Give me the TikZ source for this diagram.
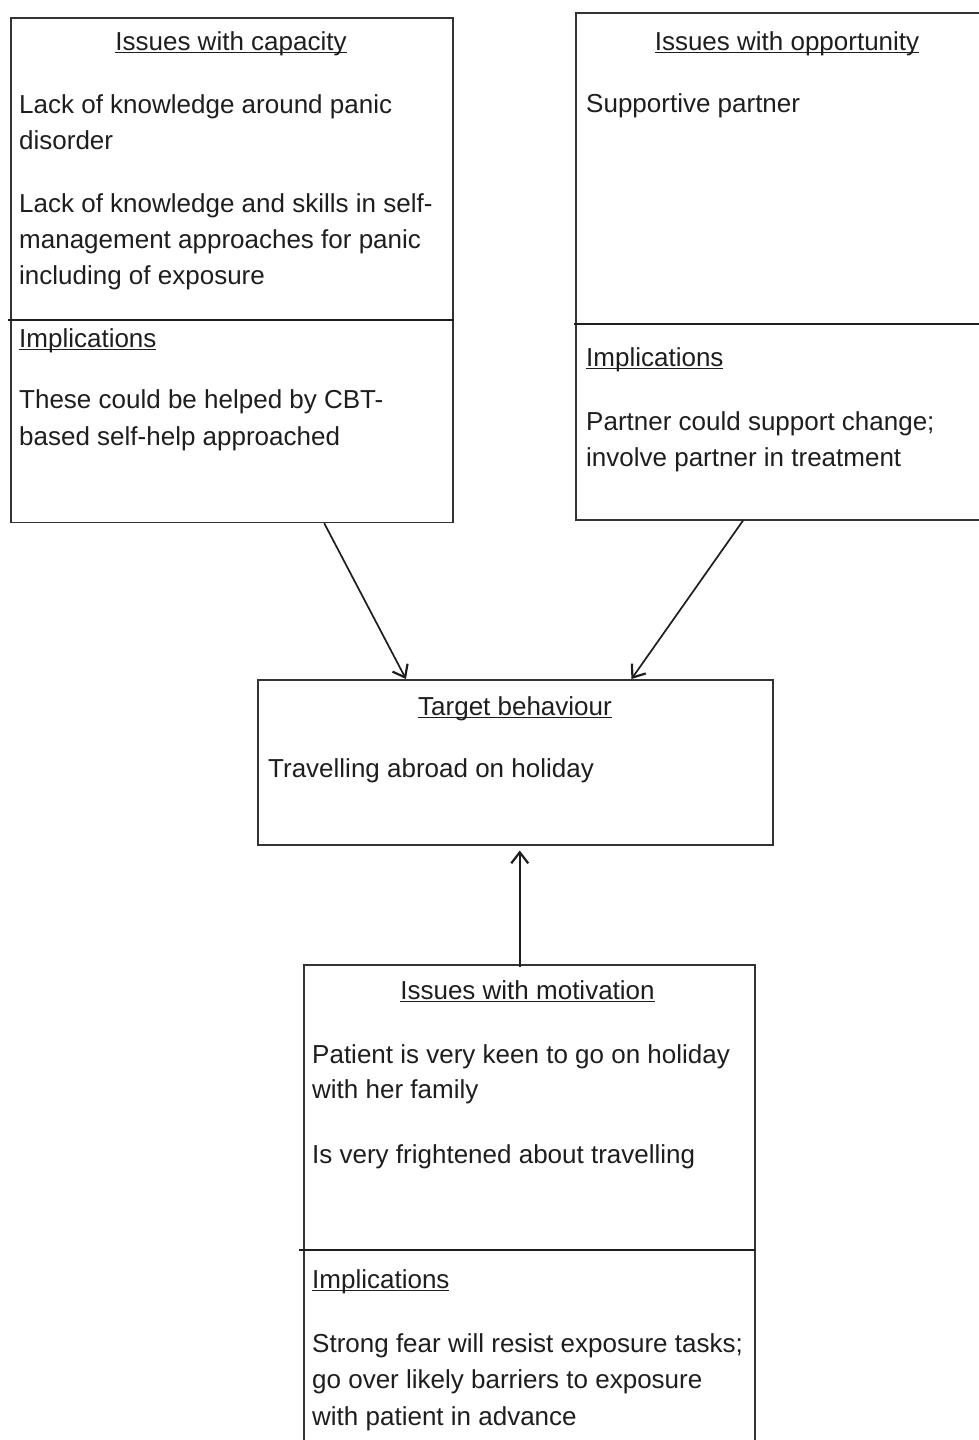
\documentclass[tikz,border=0pt]{standalone}
\usepackage{fontspec}
\setmainfont{Liberation Sans}
\usetikzlibrary{arrows.meta}
\definecolor{ink}{HTML}{1E1E1E}
\definecolor{edge}{HTML}{333333}
\newcommand\myul[1]{\setbox0\hbox{#1}\rlap{\rule[-3pt]{\wd0}{1.2pt}}\box0}
\begin{document}
\begin{tikzpicture}[x=1pt,y=1pt,
  box/.style={draw=edge, line width=1.5pt, inner sep=0pt, anchor=north west},
  divider/.style={draw=ink, line width=2pt},
  txt/.style={inner sep=0pt, anchor=base west, text=ink, font=\fontsize{26}{36}\selectfont},
  ttl/.style={txt, anchor=base},
  arr/.style={draw=ink, line width=1.7pt, -{Straight Barb[length=11pt,width=17pt,line width=2.2pt]}}]
\useasboundingbox (0,0) rectangle (978,-1440);

% boxes
\node[box, minimum width=442.3pt, minimum height=504.7pt] (cap) at (10,-17) {};
\node[box, minimum width=420pt, minimum height=507pt] (opp) at (575,-12) {};
\node[box, minimum width=515pt, minimum height=165pt] (tgt) at (257.3,-679) {};
\node[box, minimum width=450.7pt, minimum height=496pt] (mot) at (303.3,-964) {};

% dividers
\draw[divider] (8,-320) -- (453.5,-320);
\draw[divider] (574,-324) -- (995,-324);
\draw[divider] (299,-1250) -- (755,-1250);

% capacity
\node[ttl] (capT) at (231,-50) {\myul{Issues with capacity}};
\node[txt] (cap1) at (19,-113) {Lack of knowledge around panic};
\node[txt] (cap2) at (19,-149) {disorder};
\node[txt] (cap3) at (19,-212) {Lack of knowledge and skills in self-};
\node[txt] (cap4) at (19,-248) {management approaches for panic};
\node[txt] (cap5) at (19,-284) {including of exposure};
\node[txt] (capI) at (19,-347) {\myul{Implications}};
\node[txt] (cap6) at (19,-408) {These could be helped by CBT-};
\node[txt] (cap7) at (19,-445) {based self-help approached};

% opportunity
\node[ttl] (oppT) at (787,-50) {\myul{Issues with opportunity}};
\node[txt] (opp1) at (586,-112) {Supportive partner};
\node[txt] (oppI) at (586,-366) {\myul{Implications}};
\node[txt] (opp2) at (586,-430) {Partner could support change;};
\node[txt] (opp3) at (586,-466) {involve partner in treatment};

% target
\node[ttl] (tgtT) at (515,-715) {\myul{Target behaviour}};
\node[txt] (tgt1) at (268,-777) {Travelling abroad on holiday};

% motivation
\node[ttl] (motT) at (527.5,-999) {\myul{Issues with motivation}};
\node[txt] (mot1) at (312,-1063) {Patient is very keen to go on holiday};
\node[txt] (mot2) at (312,-1098) {with her family};
\node[txt] (mot3) at (312,-1163) {Is very frightened about travelling};
\node[txt] (motI) at (312,-1288) {\myul{Implications}};
\node[txt] (mot4) at (312,-1352) {Strong fear will resist exposure tasks;};
\node[txt] (mot5) at (312,-1388) {go over likely barriers to exposure};
\node[txt] (mot6) at (312,-1425) {with patient in advance};

% connectors
\draw[arr] ([xshift=92.3pt]cap.south) -- ([xshift=-109.6pt]tgt.north);
\draw[arr] ([xshift=-42.7pt]opp.south) -- ([xshift=115.9pt]tgt.north);
\coordinate (m3) at ([xshift=-9.65pt,yshift=-3pt]mot.north);
\draw[arr, shorten >=5pt] (m3) -- (m3 |- tgt.south);
\end{tikzpicture}
\end{document}
